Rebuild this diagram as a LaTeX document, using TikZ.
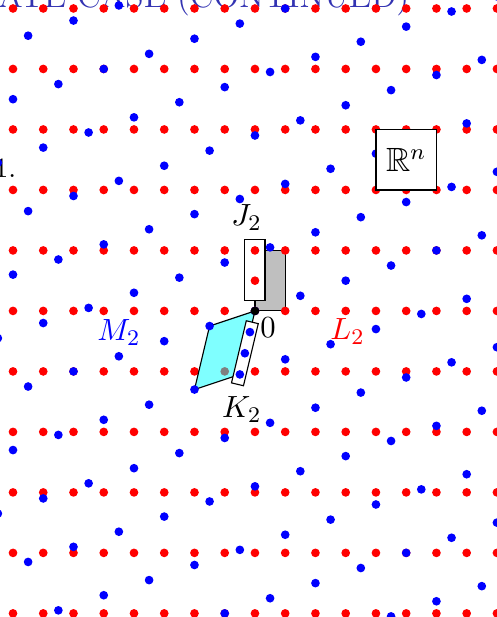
\documentclass[tikz,border=0pt]{standalone}
\usepackage{amssymb}
\usetikzlibrary{positioning,calc}

\definecolor{titleblue}{RGB}{51,51,178}
\definecolor{aqua}{rgb}{0,1,1}
\definecolor{ptred}{rgb}{1,0,0}
\definecolor{ptblue}{rgb}{0,0,1}

\begin{document}
\begin{tikzpicture}[x=10.8pt,y=10.8pt,every text node part/.style={align=center}]

\tikzstyle{bordered} = [rectangle,draw,fill=white,inner sep=0]
\tikzstyle{cell} = [draw=black,line width=0.4pt]
\tikzstyle{lbl} = [inner sep=1pt,font=\fontsize{11}{13}\selectfont]

\useasboundingbox (-8.43,-10.12) rectangle (8.0,10.28);

\coordinate (O) at (0,0);
\coordinate (b1) at (-1.5,-0.5);
\coordinate (c) at (-0.5,-2.1);

\node [anchor=base east, inner sep=0, text=titleblue, font=\large] (title) at (5.12,10.02) {ATE CASE (CONTINUED)};
\node [anchor=base east, inner sep=0] (item) at (-7.88,4.40) {1.};

\begin{scope}
\clip (-8.43,-10.12) rectangle (8.0,10.28);
\filldraw [cell, fill=gray!50] (O) rectangle (1,2);
\foreach \i in {-8,...,8}
  \foreach \j in {-10,-8,...,10}
    \fill [ptred] (\i,\j) circle (1.55pt);
\filldraw [cell, fill=aqua, fill opacity=.5] (O) -- (b1) -- ($(b1)+(c)$) -- (c) -- cycle;
\foreach \m in {-9,...,9}
  \foreach \n in {-7,...,7}
    \fill [ptblue] ({-1.5*\m+\n},{-0.5*\m-1.6*\n}) circle (1.55pt);
\end{scope}

\node [bordered, minimum width=7.2pt, minimum height=21.7pt] (jbox) at (0,1.345) {};
\fill [ptred] (0,1) circle (1.55pt) (0,2) circle (1.55pt);

\node [bordered, rotate=-13.4, minimum width=4.4pt, minimum height=22.8pt] (kbox) at ($2/3*(c)$) {};
\foreach \t in {1,2,3}
  \fill [ptblue] ($\t/3*(c)$) circle (1.55pt);

\node [bordered, minimum size=21.6pt, font=\large] (rn) at (5,5) {$\mathbb{R}^n$};

\fill [black] (O) circle (1.55pt);

\node [lbl, above=2pt of jbox, xshift=-3pt] (jlabel) {$J_2$};
\node [lbl, below=3pt of kbox.south, xshift=1.6pt] (klabel) {$K_2$};
\node [lbl] (zero) at (0.43,-0.55) {$0$};
\node [lbl, text=ptblue] (mlabel) at (-4.5,-0.71) {$M_2$};
\node [lbl, text=ptred] (llabel) at (3.06,-0.69) {$L_2$};

\end{tikzpicture}
\end{document}
